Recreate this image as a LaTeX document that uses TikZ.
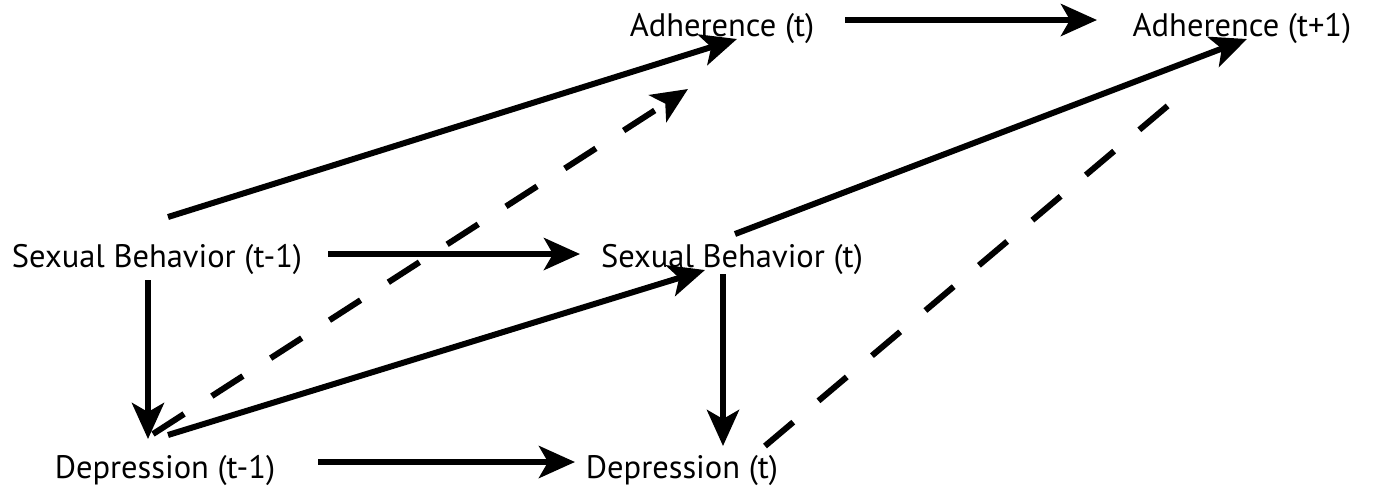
\documentclass[tikz,border=0pt]{standalone}
\usepackage{fontspec}
\setmainfont{PT Sans}
\usetikzlibrary{arrows.meta,calc}
\begin{document}
\begin{tikzpicture}[x=1pt,y=-1pt,
  lbl/.style={anchor=base,inner sep=0pt,font=\fontsize{32.5}{38}\selectfont},
  tip/.style={-{Stealth[length=36pt,width=32pt,inset=9pt]}},
  conn/.style={line width=6pt,tip},
  dconn/.style={line width=6pt,dash pattern=on 37pt off 33pt},
]
\useasboundingbox (0,0) rectangle (1374,493);
\node[lbl] (adh0) at (722,36) {Adherence (t)};
\node[lbl] (adh1) at (1242,36) {Adherence (t+1)};
\node[lbl] (sb0) at (157,267) {Sexual Behavior (t-1)};
\node[lbl] (sb1) at (732,267) {Sexual Behavior (t)};
\node[lbl] (dep0) at (165,478) {Depression (t-1)};
\node[lbl] (dep1) at (682,478) {Depression (t)};
% horizontal
\draw[conn] ($(adh0)+(123,-8)$) -- ($(adh0)+(375,-8)$);
\draw[conn] ($(sb0)+(171,-5)$) -- ($(sb0)+(423,-5)$);
\draw[conn] ($(dep0)+(153,-8)$) -- ($(dep0)+(410,-8)$);
% vertical
\draw[conn] ($(sb0)+(-9,21)$) -- ($(sb0)+(-9,180)$);
\draw[conn] ($(sb1)+(-9,15)$) -- ($(sb1)+(-9,187)$);
% diagonals
\draw[conn] ($(sb0)+(11,-42)$) -- ($(adh0)+(15,11)$);
\draw[conn] ($(dep0)+(3,-35)$) -- ($(sb1)+(-27,11)$);
\draw[conn] ($(sb1)+(3,-25)$) -- ($(adh1)+(5,11)$);
% dashed
\draw[dconn,tip] ($(dep0)+(-12,-36)$) -- ($(adh0)+(-34,61)$);
\draw[dconn] ($(dep1)+(83,-24)$) -- ($(adh1)+(-52,59)$);
\end{tikzpicture}
\end{document}
